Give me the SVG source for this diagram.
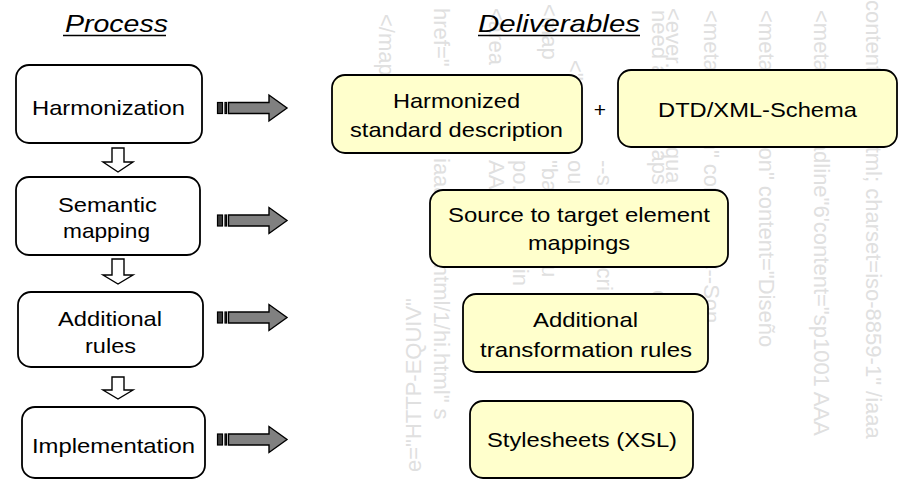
<svg xmlns="http://www.w3.org/2000/svg" width="899" height="480" viewBox="0 0 899 480">
  <style>
    .wm { font-family: "Liberation Sans", Arial, sans-serif; font-size: 22px; fill: #e0e0e0; }
    .title { font-family: "Liberation Sans", Arial, sans-serif; font-size: 24px; font-style: italic; fill: #000; }
    .lbl { font-family: "Liberation Sans", Arial, sans-serif; font-size: 21px; fill: #000; }
    .step { fill: #ffffff; stroke: #000; stroke-width: 1.8; }
    .deliv { fill: #ffffcc; stroke: #000; stroke-width: 1.8; }
    .uline { stroke: #000; stroke-width: 1.5; }
    .down { fill: #ffffff; stroke: #000; stroke-width: 1.4; }
    .right { fill: #808080; stroke: #000; stroke-width: 1.4; }
    .stripe { fill: #3a3a3a; stroke: #000; stroke-width: 1.2; }
  </style>
  <defs>
    <!-- striped block arrow pointing right, centred on y = 0 -->
    <g id="striped-arrow">
      <rect class="stripe" x="217.5" y="-5.5" width="5" height="11"/>
      <rect class="stripe" x="225" y="-5.5" width="1.5" height="11"/>
      <polygon class="right" points="228.5,-5.5 269,-5.5 269,-13 287,0 269,13 269,5.5 228.5,5.5"/>
    </g>
  </defs>

  <rect width="899" height="480" fill="#ffffff"/>

  <!-- faint vertical markup text in the background -->
  <g id="background-markup">
    <text class="wm" transform="translate(379,14) rotate(90)">&lt;/map&gt;</text>
    <text class="wm" transform="translate(434,8) rotate(90)">href="</text>
    <text class="wm" transform="translate(434,158) rotate(90)">iaaa" &lt;..T .html/1/hi.html" s</text>
    <text class="wm" transform="translate(421,472) rotate(-90)">e="HTTP-EQUIV"</text>
    <text class="wm" transform="translate(489,8) rotate(90)">&lt;area</text>
    <text class="wm" transform="translate(489,160) rotate(90)">AAA s=</text>
    <text class="wm" transform="translate(513,160) rotate(90)">po.  ten  9/  flin</text>
    <text class="wm" transform="translate(542,4) rotate(90)">&lt;map</text>
    <text class="wm" transform="translate(542,160) rotate(90)">"ba  &lt;   nu  jou</text>
    <text class="wm" transform="translate(568,60) rotate(90)">&lt;"o</text>
    <text class="wm" transform="translate(568,160) rotate(90)">ou   ent  ion</text>
    <text class="wm" transform="translate(597,160) rotate(90)">--s  Son   on  cri</text>
    <text class="wm" transform="translate(652,10) rotate(90)">need a  GENMaps</text>
    <text class="wm" transform="translate(652,290) rotate(90)">e-   eri</text>
    <text class="wm" transform="translate(666,8) rotate(90)">&lt;ever.  ge let  equa</text>
    <text class="wm" transform="translate(704,10) rotate(90)">&lt;meta   ="D  ion"  content="&lt;--Son</text>
    <text class="wm" transform="translate(759,10) rotate(90)">&lt;meta   ="Section" content="Diseño</text>
    <text class="wm" transform="translate(814,10) rotate(90)">&lt;meta   ="Hegadline"6'content="sp1001 AAA</text>
    <text class="wm" transform="translate(866,0) rotate(90)">content="text/html; charset=iso-8859-1" /iaaa</text>
  </g>

  <!-- column headings -->
  <g id="heading-process">
    <text class="title" x="65" y="32" textLength="103" lengthAdjust="spacingAndGlyphs">Process</text>
    <line class="uline" x1="63" y1="35.5" x2="166" y2="35.5"/>
  </g>
  <g id="heading-deliverables">
    <text class="title" x="478" y="32" textLength="162" lengthAdjust="spacingAndGlyphs">Deliverables</text>
    <line class="uline" x1="478" y1="35.5" x2="640" y2="35.5"/>
  </g>

  <!-- process steps -->
  <g id="step-harmonization">
    <rect class="step" x="16" y="65" width="186" height="78" rx="13"/>
    <text class="lbl" x="32" y="115" textLength="153" lengthAdjust="spacingAndGlyphs">Harmonization</text>
  </g>
  <g id="step-semantic-mapping">
    <rect class="step" x="16" y="177" width="184" height="78" rx="13"/>
    <text class="lbl" x="58" y="212" textLength="99" lengthAdjust="spacingAndGlyphs">Semantic</text>
    <text class="lbl" x="63" y="238" textLength="87" lengthAdjust="spacingAndGlyphs">mapping</text>
  </g>
  <g id="step-additional-rules">
    <rect class="step" x="18" y="292" width="185" height="75" rx="13"/>
    <text class="lbl" x="58" y="326" textLength="104" lengthAdjust="spacingAndGlyphs">Additional</text>
    <text class="lbl" x="85" y="353" textLength="51" lengthAdjust="spacingAndGlyphs">rules</text>
  </g>
  <g id="step-implementation">
    <rect class="step" x="22" y="407" width="183" height="71" rx="13"/>
    <text class="lbl" x="32" y="453" textLength="163" lengthAdjust="spacingAndGlyphs">Implementation</text>
  </g>

  <!-- deliverables -->
  <g id="deliv-harmonized-description">
    <rect class="deliv" x="332" y="75" width="250" height="78" rx="13"/>
    <text class="lbl" x="393" y="108" textLength="127" lengthAdjust="spacingAndGlyphs">Harmonized</text>
    <text class="lbl" x="350" y="137" textLength="213" lengthAdjust="spacingAndGlyphs">standard description</text>
  </g>
  <g id="plus-sign">
    <text class="lbl" x="600" y="117" text-anchor="middle">+</text>
  </g>
  <g id="deliv-dtd-schema">
    <rect class="deliv" x="618" y="70" width="279" height="77" rx="13"/>
    <text class="lbl" x="658" y="117" textLength="199" lengthAdjust="spacingAndGlyphs">DTD/XML-Schema</text>
  </g>
  <g id="deliv-element-mappings">
    <rect class="deliv" x="430" y="190" width="298" height="77" rx="13"/>
    <text class="lbl" x="448" y="222" textLength="262" lengthAdjust="spacingAndGlyphs">Source to target element</text>
    <text class="lbl" x="528" y="250" textLength="102" lengthAdjust="spacingAndGlyphs">mappings</text>
  </g>
  <g id="deliv-transformation-rules">
    <rect class="deliv" x="463" y="294" width="245" height="78" rx="13"/>
    <text class="lbl" x="533" y="327" textLength="105" lengthAdjust="spacingAndGlyphs">Additional</text>
    <text class="lbl" x="480" y="357" textLength="212" lengthAdjust="spacingAndGlyphs">transformation rules</text>
  </g>
  <g id="deliv-stylesheets">
    <rect class="deliv" x="470" y="401" width="223" height="77" rx="13"/>
    <text class="lbl" x="487" y="447" textLength="190" lengthAdjust="spacingAndGlyphs">Stylesheets (XSL)</text>
  </g>

  <!-- connectors -->
  <g id="connectors">
    <polygon class="down" points="112,148 124,148 124,162 133,162 118,172 103,162 112,162"/>
    <polygon class="down" points="112,259 124,259 124,275 133,275 118,284 103,275 112,275"/>
    <polygon class="down" points="112,377 124,377 124,390 133,390 118,399 103,390 112,390"/>
    <use href="#striped-arrow" transform="translate(0,108)"/>
    <use href="#striped-arrow" transform="translate(0,220.5)"/>
    <use href="#striped-arrow" transform="translate(0,317.5)"/>
    <use href="#striped-arrow" transform="translate(0,439.5)"/>
  </g>
</svg>
